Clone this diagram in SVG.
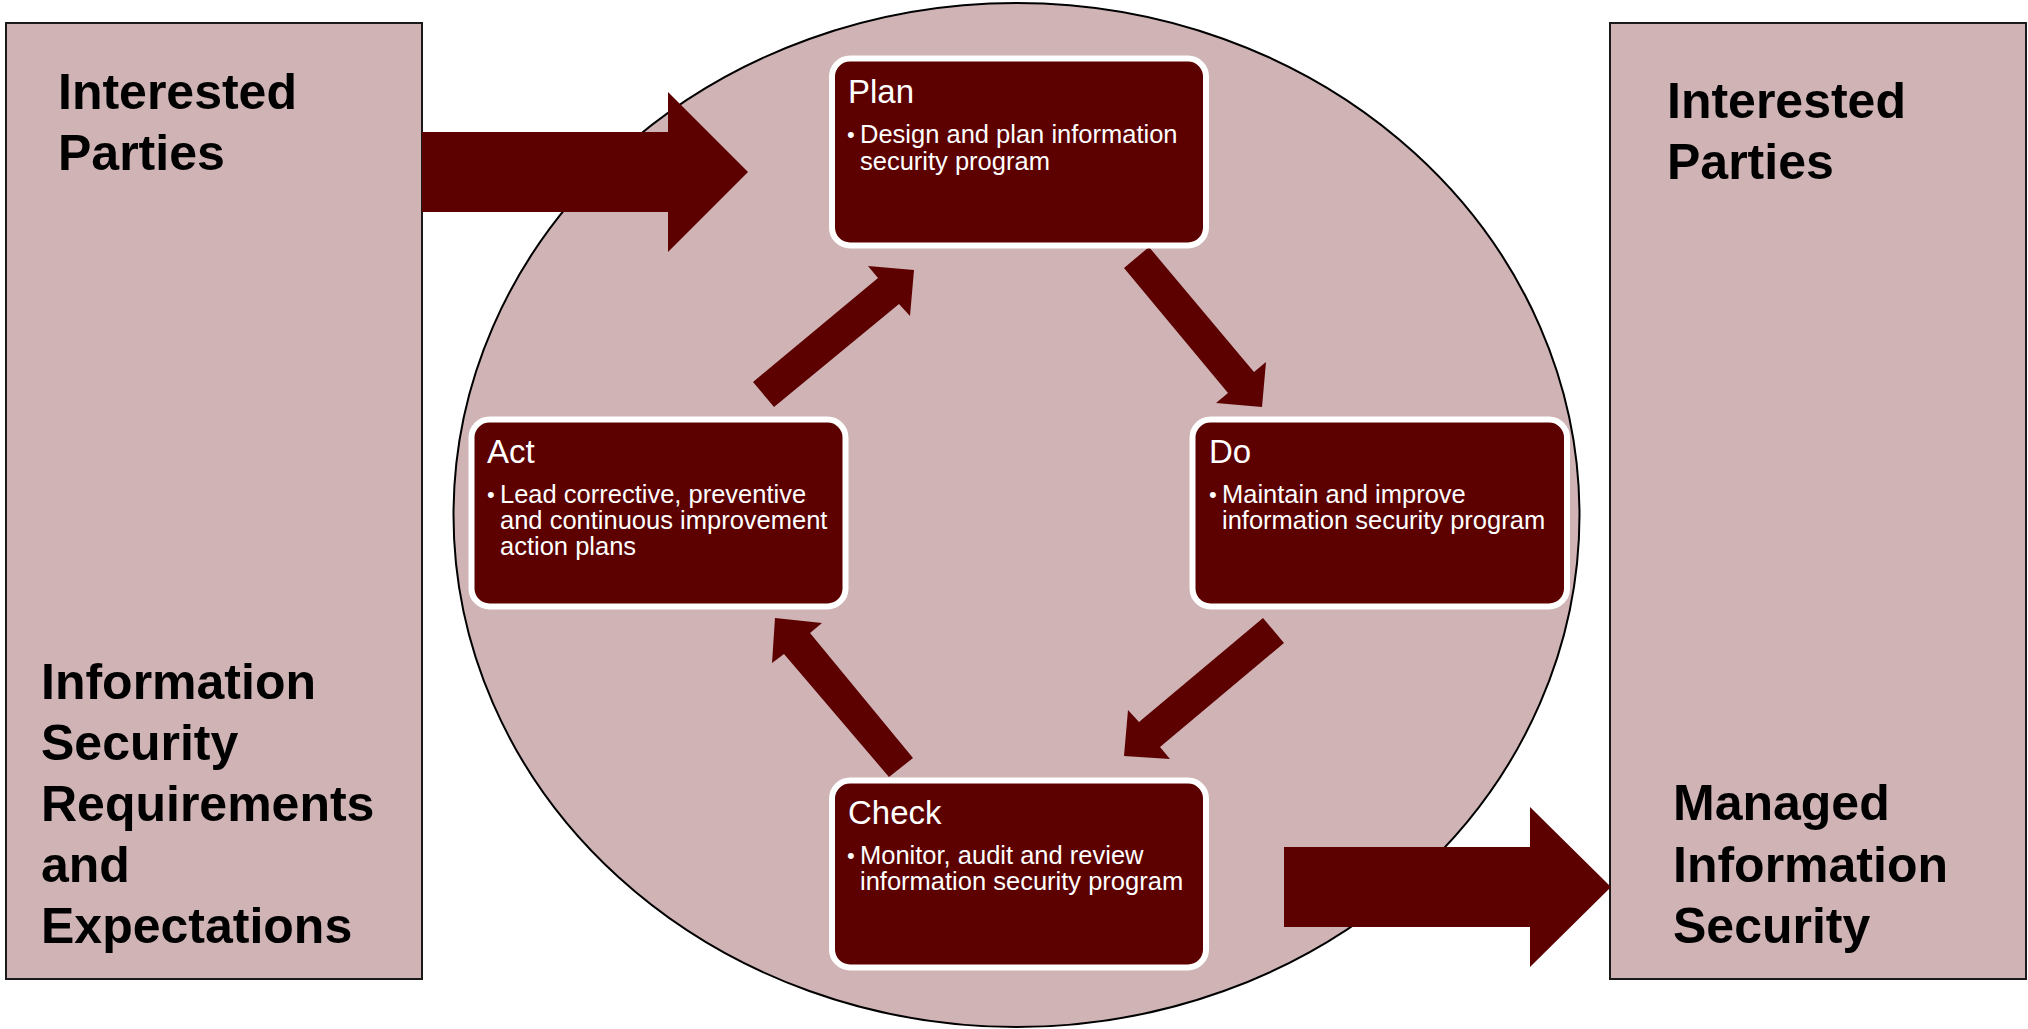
<svg xmlns="http://www.w3.org/2000/svg" width="2028" height="1029" viewBox="0 0 2028 1029">
  <defs>
    <style>
      .side { fill: #CFB3B5; stroke: #1a1a1a; stroke-width: 2; }
      .side-text { font-family: "Liberation Sans", Arial, sans-serif; font-weight: bold; font-size: 50px; fill: #000000; }
      .step { fill: #5C0000; stroke: #FFFFFF; stroke-width: 6; }
      .step-title { font-family: "Liberation Sans", Arial, sans-serif; font-size: 33px; fill: #FFFFFF; }
      .step-text { font-family: "Liberation Sans", Arial, sans-serif; font-size: 25.5px; fill: #FFFFFF; }
      .bullet { font-family: "Liberation Sans", Arial, sans-serif; font-size: 22px; fill: #FFFFFF; }
      .arrow { fill: #5C0000; stroke: none; }
    </style>
  </defs>

  <rect width="2028" height="1029" fill="#FFFFFF"/>

  <!-- PDCA cycle background -->
  <ellipse id="cycle" cx="1016.5" cy="515" rx="563" ry="512" fill="#CFB3B5" stroke="#000000" stroke-width="2"/>

  <!-- Input side -->
  <g id="inputs">
    <rect class="side" x="6" y="23" width="416" height="956"/>
    <text class="side-text" x="58" y="109">Interested</text>
    <text class="side-text" x="58" y="170">Parties</text>
    <text class="side-text" x="41" y="699">Information</text>
    <text class="side-text" x="41" y="760">Security</text>
    <text class="side-text" x="41" y="821">Requirements</text>
    <text class="side-text" x="41" y="882">and</text>
    <text class="side-text" x="41" y="943">Expectations</text>
  </g>

  <!-- Output side -->
  <g id="outputs">
    <rect class="side" x="1610" y="23" width="416" height="956"/>
    <text class="side-text" x="1667" y="118">Interested</text>
    <text class="side-text" x="1667" y="179">Parties</text>
    <text class="side-text" x="1673" y="820">Managed</text>
    <text class="side-text" x="1673" y="882">Information</text>
    <text class="side-text" x="1673" y="943">Security</text>
  </g>

  <!-- Connectors -->
  <g id="connectors">
    <polygon class="arrow" points="422,132 668,132 668,92 748,172 668,252 668,212 422,212"/>
    <polygon class="arrow" points="1284,847 1530,847 1530,807 1611,887 1530,967 1530,927 1284,927"/>
    <!-- Plan to Do -->
    <polygon class="arrow" points="1124,268 1149,247 1254,372 1266,362 1262,407 1216,403 1228,393"/>
    <!-- Do to Check -->
    <polygon class="arrow" points="1263,618 1284,643 1160,747 1170,759 1124,756 1128,710 1139,722"/>
    <!-- Check to Act -->
    <polygon class="arrow" points="913,758 889,777 784,654 772,663 775,618 822,623 810,633"/>
    <!-- Act to Plan -->
    <polygon class="arrow" points="753,382 878,278 868,266 914,270 910,316 899,304 774,407"/>
  </g>

  <g id="plan">
    <rect class="step" x="832" y="58.5" width="374" height="187" rx="18"/>
    <text class="step-title" x="848" y="103">Plan</text>
    <text class="bullet" x="847" y="142">•</text>
    <text class="step-text" x="860" y="143">Design and plan information</text>
    <text class="step-text" x="860" y="170">security program</text>
  </g>

  <g id="do">
    <rect class="step" x="1192.5" y="419.5" width="374.5" height="187" rx="18"/>
    <text class="step-title" x="1209" y="463">Do</text>
    <text class="bullet" x="1209" y="502">•</text>
    <text class="step-text" x="1222" y="503">Maintain and improve</text>
    <text class="step-text" x="1222" y="529">information security program</text>
  </g>

  <g id="check">
    <rect class="step" x="832" y="780.5" width="374" height="187" rx="18"/>
    <text class="step-title" x="848" y="824">Check</text>
    <text class="bullet" x="847" y="863">•</text>
    <text class="step-text" x="860" y="864">Monitor, audit and review</text>
    <text class="step-text" x="860" y="890">information security program</text>
  </g>

  <g id="act">
    <rect class="step" x="471.5" y="419.5" width="374" height="187" rx="18"/>
    <text class="step-title" x="487" y="463">Act</text>
    <text class="bullet" x="487" y="502">•</text>
    <text class="step-text" x="500" y="503">Lead corrective, preventive</text>
    <text class="step-text" x="500" y="529">and continuous improvement</text>
    <text class="step-text" x="500" y="555">action plans</text>
  </g>
</svg>
